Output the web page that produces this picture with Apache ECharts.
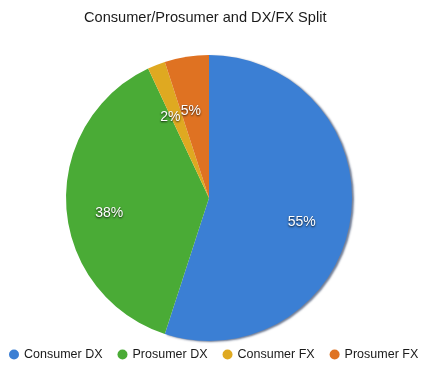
<!DOCTYPE html>
<html><head><meta charset="utf-8">
<script src="https://cdn.jsdelivr.net/npm/echarts@6/dist/echarts.min.js"></script>
<style>html,body{margin:0;padding:0;background:#fff}#c{width:430px;height:373px}</style>
</head><body><div id="c"></div>
<script>
const titleText = 'Consumer/Prosumer and DX/FX Split';
const categories = ['Consumer DX', 'Prosumer DX', 'Consumer FX', 'Prosumer FX'];
const values = [55, 38, 2, 5];
const colors = ['#3b7fd4', '#4aab36', '#dfa921', '#df7222'];

const data = categories.map((n, i) => ({
  name: n, value: values[i],
  itemStyle: i === 0
    ? { color: colors[i], shadowColor: 'rgba(20,40,80,0.6)', shadowBlur: 2, shadowOffsetX: 2, shadowOffsetY: 1 }
    : { color: colors[i] }
}));
const labelData = categories.map((n, i) => ({ name: n, value: values[i] }));

const chart = echarts.init(document.getElementById('c'), null, { renderer: 'canvas' });
chart.setOption({
  animation: false,
  backgroundColor: '#fff',
  title: {
    text: titleText, left: 79, top: 5,
    textStyle: { fontFamily: 'Liberation Sans, Arial, sans-serif', fontSize: 14.6, fontWeight: 'normal', color: '#1a1a1a' }
  },
  legend: {
    bottom: 7, left: 4, width: 428, icon: 'circle', itemWidth: 10, itemHeight: 10, itemGap: 15,
    data: categories.map((n, i) => ({ name: n, itemStyle: { color: colors[i] } })),
    textStyle: { fontFamily: 'Liberation Sans, Arial, sans-serif', fontSize: 12.5, color: '#1a1a1a' }
  },
  series: [
    {
      type: 'pie', center: [209, 198], radius: 143, startAngle: 90, clockwise: true,
      data: data, label: { show: false }, labelLine: { show: false }, silent: true
    },
    {
      type: 'pie', center: [206, 207], radius: [48, 140], startAngle: 90, clockwise: true,
      data: labelData, silent: true, legendHoverLink: false,
      itemStyle: { color: 'rgba(0,0,0,0)' },
      label: {
        show: true, position: 'inside', formatter: '{c}%',
        fontFamily: 'Liberation Sans, Arial, sans-serif', fontSize: 14, color: '#ffffff',
        textShadowColor: 'rgba(0,0,0,0.85)', textShadowBlur: 2, textShadowOffsetX: 0, textShadowOffsetY: 1
      },
      labelLine: { show: false }
    }
  ]
});
</script>
</body></html>
